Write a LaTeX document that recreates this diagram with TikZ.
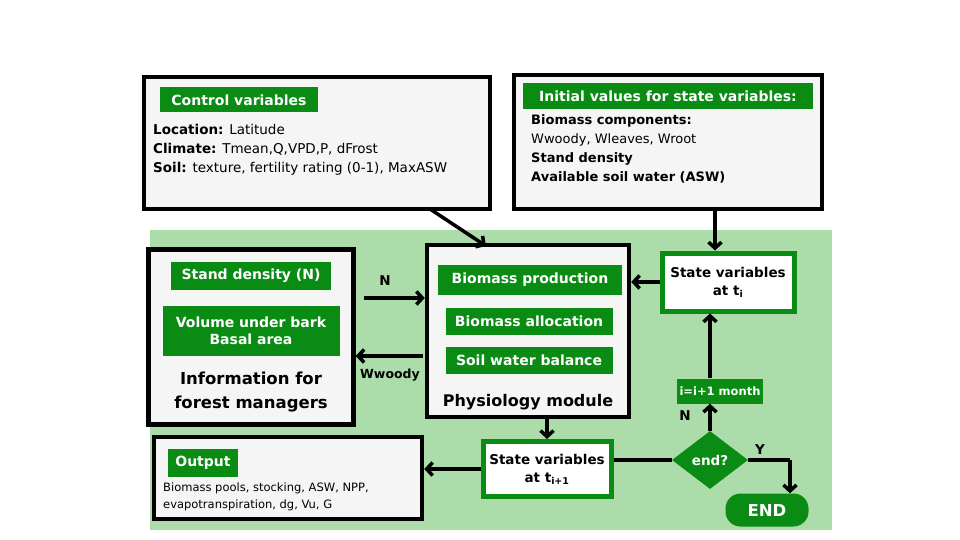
\documentclass[tikz,border=0pt]{standalone}
\usepackage{fontspec}
\setmainfont{DejaVu Sans}
\usepackage{tikz}
\usetikzlibrary{arrows.meta, positioning, shapes.geometric}
\definecolor{darkgreen}{RGB}{10,140,20}
\definecolor{lightgreen}{RGB}{172,220,170}
\definecolor{paper}{RGB}{245,245,245}
\tikzset{
  panel/.style={draw, line width=4.5pt, fill=paper, inner sep=0pt},
  tag/.style={fill=darkgreen, text=white, font=\fontsize{14}{17}\selectfont\bfseries, inner sep=3pt},
  state/.style={draw=darkgreen, line width=5pt, fill=white, align=center, font=\fontsize{13.5}{18}\selectfont\bfseries, inner sep=2pt},
  flow/.style={line width=3.5pt, -{Straight Barb[length=6pt,width=13pt]}},
  plain/.style={line width=3.5pt}
}
\begin{document}
\begin{tikzpicture}[x=1pt, y=-1pt]
  \useasboundingbox (0,0) rectangle (960,540);
  \fill[lightgreen] (150,230) rectangle (832,530);
  % top boxes
  \node[panel, minimum width=346pt, minimum height=132pt] (control) at (317,143) {};
  \node[tag, minimum width=158pt, minimum height=25pt] (ctag) at (239,100) {Control variables};
  \node[anchor=north west, align=left, font=\fontsize{13.5}{19}\selectfont, inner sep=0pt] (ctext) at (153,124)
    {\textbf{Location:} Latitude\\ \textbf{Climate:} Tmean,Q,VPD,P, dFrost\\ \textbf{Soil:} texture, fertility rating (0-1), MaxASW};
  \node[panel, minimum width=308pt, minimum height=134pt] (init) at (668,142) {};
  \node[tag, minimum width=290pt, minimum height=26pt] (itag) at (668,96) {Initial values for state variables:};
  \node[anchor=north west, align=left, font=\fontsize{13}{19}\selectfont, inner sep=0pt] (itext) at (531,114)
    {\textbf{Biomass components:}\\ Wwoody, Wleaves, Wroot\\ \textbf{Stand density}\\ \textbf{Available soil water (ASW)}};
  % left panel
  \node[panel, minimum width=205pt, minimum height=175pt] (info) at (251,337) {};
  \node[tag, minimum width=160pt, minimum height=28pt] (density) at (251,276) {Stand density (N)};
  \node[tag, minimum width=177pt, minimum height=50pt, align=center] (volume) at (251,331) {Volume under bark\\Basal area};
  \node[align=center, font=\fontsize{16.5}{24}\selectfont\bfseries] (managers) at (251,392) {Information for\\forest managers};
  % physiology
  \node[panel, minimum width=202pt, minimum height=172pt] (physio) at (528,331) {};
  \node[tag, minimum width=184pt, minimum height=30pt] (production) at (530,280) {Biomass production};
  \node[tag, minimum width=167pt, minimum height=27pt] (allocation) at (529,321) {Biomass allocation};
  \node[tag, minimum width=167pt, minimum height=27pt] (water) at (529,360) {Soil water balance};
  \node[font=\fontsize{16}{19}\selectfont\bfseries] (module) at (528,402) {Physiology module};
  % state and loop
  \node[state, minimum width=132pt, minimum height=58pt] (ti) at (728,282) {State variables\\at t\textsubscript{i}};
  \node[state, minimum width=128pt, minimum height=55pt] (tnext) at (547,469) {State variables\\at t\textsubscript{i+1}};
  \node[tag, font=\fontsize{11.5}{13}\selectfont\bfseries, minimum width=85pt, minimum height=25pt] (month) at (720,391) {i=i+1 month};
  \node[diamond, fill=darkgreen, text=white, font=\fontsize{13.5}{16}\selectfont\bfseries, aspect=1.4, inner sep=0pt, minimum width=76pt, minimum height=58pt] (endq) at (710,460) {end?};
  \node[rounded corners=15pt, fill=darkgreen, text=white, font=\fontsize{16.5}{19}\selectfont\bfseries, minimum width=83pt, minimum height=33pt] (stop) at (767,510) {END};
  % output
  \node[panel, minimum width=268pt, minimum height=82pt] (output) at (288,478) {};
  \node[tag, minimum width=70pt, minimum height=28pt] (otag) at (203,463) {Output};
  \node[anchor=north west, align=left, font=\fontsize{11.5}{17}\selectfont, inner sep=0pt] (otext) at (163,483)
    {Biomass pools, stocking, ASW, NPP,\\ evapotranspiration, dg, Vu, G};
  % labels
  \node[font=\fontsize{13.5}{16}\selectfont\bfseries] (nlab) at (385,281) {N};
  \node[font=\fontsize{12.5}{15}\selectfont\bfseries] (wlab) at (390,375) {Wwoody};
  \node[font=\fontsize{13.5}{16}\selectfont\bfseries] (nloop) at (685,416) {N};
  \node[font=\fontsize{13.5}{16}\selectfont\bfseries] (yloop) at (760,450) {Y};
  \coordinate (nfrom) at (364,298);
  \coordinate (wfrom) at (423,356);
  \coordinate (yturn) at (790,460);
  % connectors
  \draw[flow] (430,209) -- (486,246);
  \draw[flow] (init.south -| 715,0) -- (ti.north -| 715,0);
  \draw[flow] (nfrom) -- (physio.west |- nfrom);
  \draw[flow] (wfrom) -- (info.east |- wfrom);
  \draw[flow] (ti.west) -- (physio.east |- ti.west);
  \draw[flow] (physio.south -| tnext) -- (tnext.north);
  \draw[plain] (tnext.east |- endq.west) -- (endq.west);
  \draw[flow] (endq.north) -- (month.south -| endq.north);
  \draw[flow] (month.north -| endq.north) -- (ti.south -| endq.north);
  \draw[plain] (endq.east) -- (yturn);
  \draw[flow] (yturn) -- (stop.north -| yturn);
  \draw[flow] (tnext.west) -- (output.east |- tnext.west);
\end{tikzpicture}
\end{document}
